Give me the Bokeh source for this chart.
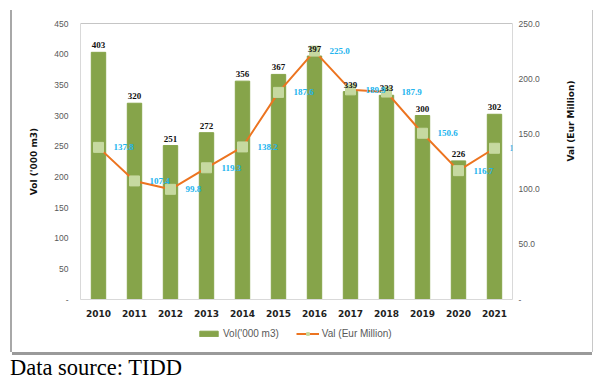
import math
from bokeh.plotting import figure
from bokeh.models import (ColumnDataSource, Range1d, LinearAxis, FixedTicker, Legend,
                          LegendItem, Span, Div, LabelSet)
from bokeh.layouts import column
from bokeh.embed import file_html
from bokeh.resources import INLINE

years = ["2010", "2011", "2012", "2013", "2014", "2015", "2016", "2017", "2018", "2019", "2020", "2021"]
vol = [403, 320, 251, 272, 356, 367, 397, 339, 333, 300, 226, 302]
val = [137.8, 107.4, 99.8, 119.3, 138.2, 187.6, 225.0, 189.9, 187.9, 150.6, 116.7, 137.0]
val_labels = ["137.8", "107.4", "99.8", "119.3", "138.2", "187.6", "225.0", "189.9", "187.9", "150.6", "116.7", "137"]
vol_ticks = [0, 50, 100, 150, 200, 250, 300, 350, 400, 450]
val_ticks = [0, 50, 100, 150, 200, 250]

BAR = "#86A44A"
LINE = "#EC7420"
MARK = "#C6D9A0"
NAN = float("nan")

src = ColumnDataSource(dict(year=years, vol=vol, val=val, vol_lbl=[str(v) for v in vol], val_lbl=val_labels))

p = figure(x_range=years, y_range=Range1d(0, 450), width=580, height=310,
           output_backend="svg", toolbar_location=None,
           min_border_left=68, min_border_right=80, min_border_top=13, min_border_bottom=21)
p.extra_y_ranges = {"val": Range1d(0, 250)}

bars = p.vbar(x="year", top="vol", width=0.4, source=src, color=BAR)
line = p.line(x="year", y="val", source=src, y_range_name="val", color=LINE, line_width=2)
marks = p.scatter(x="year", y="val", source=src, y_range_name="val", marker="square",
                  size=10, fill_color=MARK, line_color=MARK)

p.add_layout(LabelSet(x="year", y="vol", text="vol_lbl", source=src, text_align="center",
                      text_baseline="bottom", y_offset=4, text_font_size="9px",
                      text_font_style="bold", text_color="#111111", text_font="DejaVu Sans"))
p.add_layout(LabelSet(x="year", y="val", text="val_lbl", source=src, y_range_name="val",
                      text_align="left", text_baseline="middle", x_offset=15,
                      text_font_size="9px", text_font_style="bold", text_color="#22B4EE",
                      text_font="DejaVu Sans"))

p.xgrid.visible = False
p.ygrid.visible = False
p.outline_line_color = None
p.add_layout(Span(location=450, dimension="width", line_color="#8c8c8c", line_width=1))

ax = p.yaxis[0]
ax.ticker = FixedTicker(ticks=vol_ticks)
ax.major_label_overrides = {0: "-"}
ax.axis_label = "Vol ('000 m3)"
ax.axis_label_text_font_size = "9px"
ax.axis_label_text_font_style = "bold"
ax.axis_label_text_font = "DejaVu Sans"
ax.axis_label_text_color = "#111111"
ax.axis_label_standoff = 12
ax.major_label_text_font_size = "8.5px"
ax.major_label_text_color = "#595959"
ax.major_label_standoff = 12
ax.axis_line_color = "#d9d9d9"
ax.major_tick_line_color = None
ax.major_tick_out = 0
ax.minor_tick_line_color = None

rax = LinearAxis(y_range_name="val", ticker=FixedTicker(ticks=val_ticks))
rax.major_label_overrides = {0: "-", 50: "50.0", 100: "100.0", 150: "150.0", 200: "200.0", 250: "250.0"}
rax.axis_label = "Val (Eur Million)"
rax.axis_label_text_font_size = "9px"
rax.axis_label_text_font_style = "bold"
rax.axis_label_text_font = "DejaVu Sans"
rax.axis_label_text_color = "#111111"
rax.axis_label_standoff = 28
try:
    rax.axis_label_orientation = math.pi / 2
except Exception:
    pass
rax.major_label_text_font_size = "8.5px"
rax.major_label_text_color = "#595959"
rax.major_label_standoff = 6
rax.axis_line_color = "#d9d9d9"
rax.major_tick_line_color = None
rax.major_tick_out = 0
rax.minor_tick_line_color = None
p.add_layout(rax, "right")

xa = p.xaxis[0]
xa.major_label_text_font_size = "9px"
xa.major_label_text_font_style = "bold"
xa.major_label_text_font = "DejaVu Sans"
xa.major_label_text_color = "#222222"
xa.axis_line_color = "#d9d9d9"
xa.major_tick_line_color = None
xa.major_tick_out = 0
xa.major_label_standoff = 10

# legend strip (dummy renderers carry no drawable data)
lf = figure(width=580, height=32, x_range=Range1d(0, 1), y_range=Range1d(0, 1),
            x_axis_type=None, y_axis_type=None, output_backend="svg", toolbar_location=None,
            min_border=0)
lf.outline_line_color = None
r1 = lf.vbar(x=[NAN], top=[NAN], bottom=[NAN], width=0.4, color=BAR)
r2 = lf.line(x=[NAN, NAN], y=[NAN, NAN], color=LINE, line_width=2)
r3 = lf.scatter(x=[NAN], y=[NAN], marker="square", size=10, fill_color=MARK, line_color=MARK)
legend = Legend(items=[LegendItem(label="Vol('000 m3)", renderers=[r1]),
                       LegendItem(label="Val (Eur Million)", renderers=[r2, r3])],
                orientation="horizontal", location=(117, 13), border_line_color=None,
                background_fill_alpha=0,
                label_text_font_size="10px", label_text_color="#595959", glyph_width=23,
                glyph_height=7, label_height=12, spacing=17, padding=0, margin=0,
                label_standoff=3)
lf.add_layout(legend)

box = column(p, lf, spacing=0, margin=(10, 0, 0, 12),
             styles={"box-shadow": "-2px 0 0 0 #a8a8a8, 1px 0 0 0 #c8c8c8, 0 3px 0 0 #9a9a9a"})

div = Div(text="Data source: TIDD", margin=(4, 0, 0, 10),
          styles={"font-family": "Liberation Serif", "font-size": "22.5px", "line-height": "24px",
                  "color": "#000"})

layout = column(box, div, spacing=0)
open("out.html", "w").write(file_html(layout, INLINE))
